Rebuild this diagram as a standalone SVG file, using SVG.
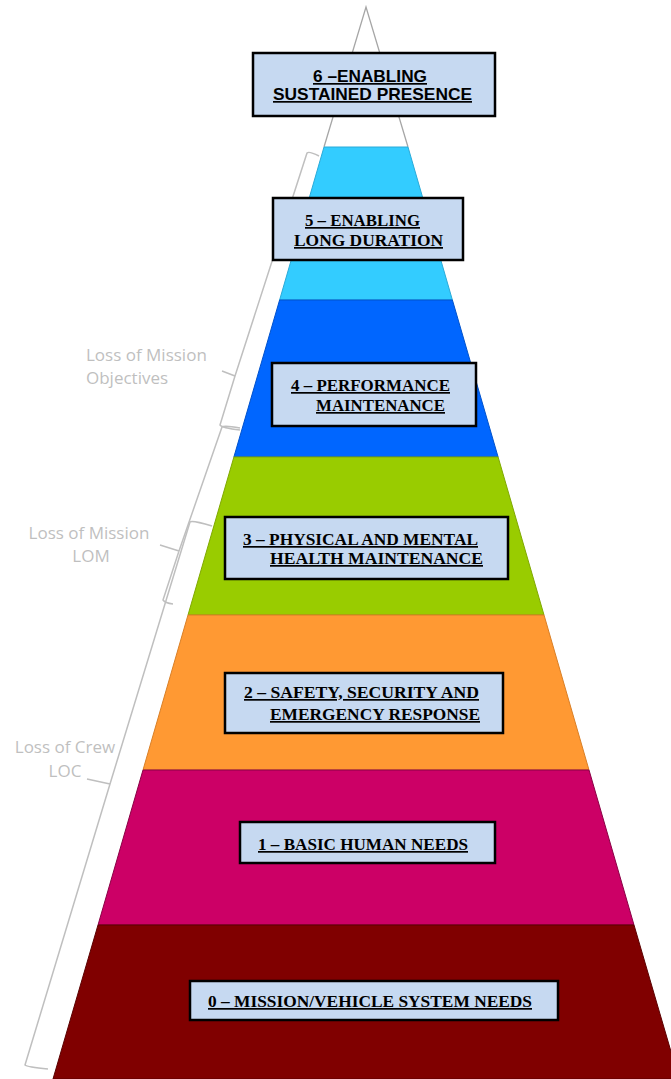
<svg xmlns="http://www.w3.org/2000/svg" width="671" height="1079" viewBox="0 0 671 1079">
<style>
.box{fill:#C6D9F1;stroke:#000;stroke-width:2.5}
.t{font-family:"Liberation Serif","Times New Roman",serif;font-weight:bold;font-size:17px;fill:#000;text-decoration:underline}
.ts{font-family:"Liberation Sans",Arial,sans-serif;font-weight:bold;font-size:17px;fill:#000;text-decoration:underline}
.lbl{font-family:"Open Sans","Liberation Sans",sans-serif;font-size:17px;fill:#BFBFBF}
.brace{fill:none;stroke:#BFBFBF;stroke-width:1.5;stroke-linejoin:round}
</style>
<rect width="671" height="1079" fill="#fff"/>
<g id="pyramid">
  <path d="M324,147 L366,7 L408,147" fill="#fff" stroke="#A6A6A6" stroke-width="1.3"/>
  <polygon points="324,147 408,147 452.4,300 279.6,300" fill="#33CCFF" stroke="#2AAAD8" stroke-width="1"/>
  <polygon points="279.6,300 452.4,300 498.1,457 233.9,457" fill="#0066FF" stroke="#0052CC" stroke-width="1"/>
  <polygon points="233.9,457 498.1,457 544,615 188,615" fill="#99CC00" stroke="#7FA800" stroke-width="1"/>
  <polygon points="188,615 544,615 589,770 143,770" fill="#FF9933" stroke="#D97F26" stroke-width="1"/>
  <polygon points="143,770 589,770 634,925 98,925" fill="#CC0066" stroke="#8A0045" stroke-width="1"/>
  <polygon points="98,925 634,925 679,1079 53,1079" fill="#800000" stroke="#5A0000" stroke-width="1"/>
</g>
<g id="connectors">
  <path class="brace" d="M319,156 Q309,151 307,153 L235,376 L222,371 M235,376 L220,425 Q222,428 240,430"/>
  <path class="brace" d="M240,428 Q224,425 222,427 L179,551 L160,545 M179,551 L163,600 Q165,603 173,604"/>
  <path class="brace" d="M212,526 Q192,520 190,522 L110,784 L87,779 M110,784 L25,1065 Q27,1067 48,1069"/>
</g>
<g id="label-loss-objectives">
  <text class="lbl" x="86" y="361">Loss of Mission</text>
  <text class="lbl" x="86" y="384">Objectives</text>
</g>
<g id="label-lom">
  <text class="lbl" x="89" y="539" text-anchor="middle">Loss of Mission</text>
  <text class="lbl" x="91" y="562" text-anchor="middle">LOM</text>
</g>
<g id="label-loc">
  <text class="lbl" x="65" y="753" text-anchor="middle">Loss of Crew</text>
  <text class="lbl" x="65" y="777" text-anchor="middle">LOC</text>
</g>
<g id="node6">
  <rect class="box" x="253" y="53" width="242" height="63"/>
  <text class="ts" x="313" y="82" textLength="114" lengthAdjust="spacingAndGlyphs">6 –ENABLING</text>
  <text class="ts" x="273" y="100" textLength="199" lengthAdjust="spacingAndGlyphs">SUSTAINED  PRESENCE</text>
</g>
<g id="node5">
  <rect class="box" x="273" y="198" width="190" height="62"/>
  <text class="t" x="305" y="226" textLength="115" lengthAdjust="spacingAndGlyphs">5 – ENABLING</text>
  <text class="t" x="294" y="246" textLength="149" lengthAdjust="spacingAndGlyphs">LONG DURATION</text>
</g>
<g id="node4">
  <rect class="box" x="272" y="363" width="204" height="63"/>
  <text class="t" x="291" y="391" textLength="159" lengthAdjust="spacingAndGlyphs">4 – PERFORMANCE</text>
  <text class="t" x="316" y="411" textLength="129" lengthAdjust="spacingAndGlyphs">MAINTENANCE</text>
</g>
<g id="node3">
  <rect class="box" x="225" y="517" width="283" height="62"/>
  <text class="t" x="243" y="545" textLength="235" lengthAdjust="spacingAndGlyphs">3 – PHYSICAL AND MENTAL</text>
  <text class="t" x="270" y="564" textLength="213" lengthAdjust="spacingAndGlyphs">HEALTH  MAINTENANCE</text>
</g>
<g id="node2">
  <rect class="box" x="225" y="673" width="278" height="60"/>
  <text class="t" x="244" y="698" textLength="235" lengthAdjust="spacingAndGlyphs">2 – SAFETY, SECURITY AND</text>
  <text class="t" x="270" y="720" textLength="210" lengthAdjust="spacingAndGlyphs">EMERGENCY  RESPONSE</text>
</g>
<g id="node1">
  <rect class="box" x="240" y="822" width="255" height="41"/>
  <text class="t" x="258" y="850" textLength="210" lengthAdjust="spacingAndGlyphs">1 – BASIC HUMAN  NEEDS</text>
</g>
<g id="node0">
  <rect class="box" x="190" y="981" width="368" height="39"/>
  <text class="t" x="208" y="1007" textLength="324" lengthAdjust="spacingAndGlyphs">0 – MISSION/VEHICLE  SYSTEM NEEDS</text>
</g>
</svg>
